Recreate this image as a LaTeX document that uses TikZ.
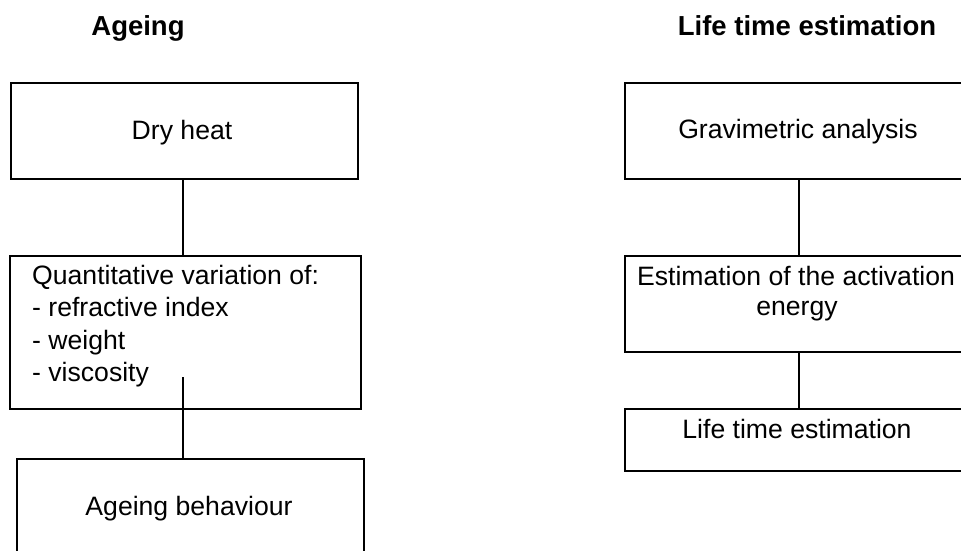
\documentclass[tikz,border=0pt]{standalone}
\usepackage{fontspec}
\setmainfont{Liberation Sans}
\begin{document}
\begin{tikzpicture}[x=1pt,y=-1pt,
  box/.style={draw, line width=2pt, inner sep=0pt, anchor=north west},
  conn/.style={line width=1.6pt},
  txt/.style={inner sep=0pt, font=\fontsize{26.6}{31}\selectfont},
  ttl/.style={inner sep=0pt, anchor=base, font=\fontsize{27.5}{32}\selectfont\bfseries}]
\useasboundingbox (0,0) rectangle (961,551);
\clip (0,0) rectangle (961,551);
% titles
\node[ttl] (t1) at (138,36) {Ageing};
\node[ttl] (t2) at (807,36) {Life time estimation};
% left column
\node[box, minimum width=347pt, minimum height=96pt] (dry) at (10,82) {};
\node[txt, anchor=base] (dryt) at (182,139) {Dry heat};
\node[box, minimum width=351pt, minimum height=153pt] (quant) at (9,255) {};
\node[txt, anchor=base west] (q1) at (32,284) {Quantitative variation of:};
\node[txt, anchor=base west] (q2) at (32,316) {- refractive index};
\node[txt, anchor=base west] (q3) at (32,349) {- weight};
\node[txt, anchor=base west] (q4) at (32,381) {- viscosity};
\node[box, minimum width=347pt, minimum height=150pt] (ageb) at (16,458) {};
\node[txt, anchor=base] (agebt) at (189,515) {Ageing behaviour};
\coordinate (cin) at (183,377);
\draw[conn] (dry.south -| cin) -- (quant.north -| cin);
\draw[conn] (cin) -- (cin |- ageb.north);
% right column
\node[box, minimum width=348pt, minimum height=96pt] (grav) at (624,82) {};
\node[txt, anchor=base] (gravt) at (798,138) {Gravimetric analysis};
\node[box, minimum width=348pt, minimum height=96pt] (est) at (624,255) {};
\node[txt, anchor=base] (e1) at (796,285) {Estimation of the activation};
\node[txt, anchor=base] (e2) at (797,315) {energy};
\node[box, minimum width=348pt, minimum height=62pt] (life) at (624,408) {};
\node[txt, anchor=base] (lifet) at (797,438) {Life time estimation};
\draw[conn] (grav.south) -- (est.north);
\draw[conn] (est.south) -- (life.north);
\end{tikzpicture}
\end{document}
